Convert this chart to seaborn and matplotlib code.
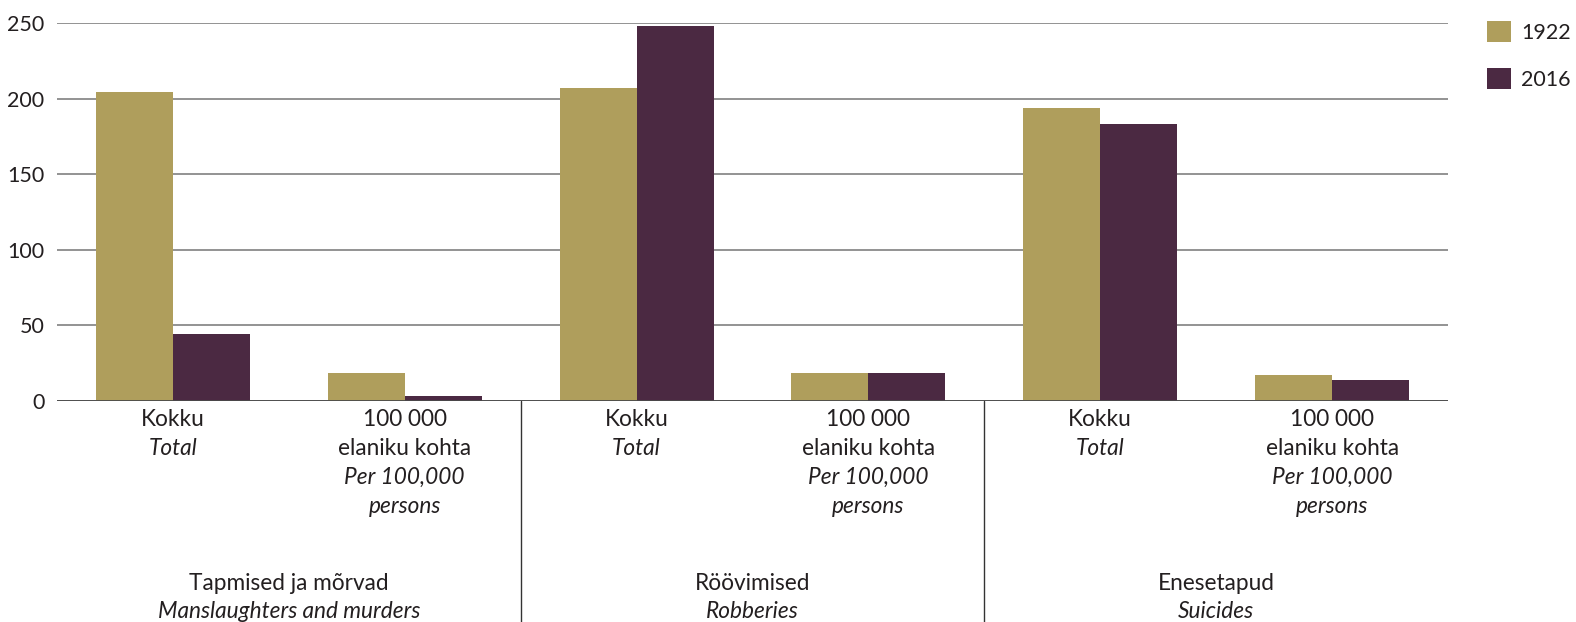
import pandas as pd
import matplotlib.pyplot as plt
import seaborn as sns
from matplotlib.patches import Patch

# Data
groups_et = ['Tapmised ja mõrvad', 'Röövimised', 'Enesetapud']
groups_en = ['Manslaughters and murders', 'Robberies', 'Suicides']
measures_et = [['Kokku'], ['100 000', 'elaniku kohta']]
measures_en = [['Total'], ['Per 100,000', 'persons']]
years = ['1922', '2016']
v1922 = [204.5, 18.5, 207, 18.5, 193.5, 17.2]
v2016 = [44.5, 3.3, 248, 18.5, 183.5, 13.9]

colors = {'1922': '#AF9E5C', '2016': '#4B2942'}

cats = [f'{g}|{m}' for g in range(len(groups_et)) for m in range(len(measures_et))]
df = pd.DataFrame({
    'cat': cats * 2,
    'year': ['1922'] * len(cats) + ['2016'] * len(cats),
    'value': v1922 + v2016,
})

sns.set_style('white')
plt.rcParams['font.family'] = ['Lato', 'DejaVu Sans']
plt.rcParams['text.color'] = '#231F20'

W, H = 1576, 622
fig = plt.figure(figsize=(W / 100, H / 100), dpi=100)
x0, x1, y0, y1 = 57, 1448, 401, 23
ax = fig.add_axes([x0 / W, (H - y0) / H, (x1 - x0) / W, (y0 - y1) / H])

sns.barplot(data=df, x='cat', y='value', hue='year', order=cats, hue_order=years,
            palette=colors, width=0.664, saturation=1, ax=ax, legend=False,
            linewidth=0, edgecolor='none', zorder=3)

ax.set_ylim(0, 250)
ax.set_yticks(range(0, 251, 50))
ax.set_xlim(-0.5, len(cats) - 0.5)
for s in ax.spines.values():
    s.set_visible(False)
ax.yaxis.grid(True, color='#8a8a8a', linewidth=1.3, zorder=0)
ax.axhline(0, color='#4a4a4a', linewidth=1.3, zorder=4)
ax.tick_params(axis='y', length=0, pad=9, labelsize=15.5, labelcolor='#231F20')
ax.set_xticks([])
ax.set_xlabel('')
ax.set_ylabel('')

# category labels under the axis
ph = y0 - y1
trans = ax.get_xaxis_transform()
line_h = 28.8
fs = 16.3
for i, c in enumerate(cats):
    m = int(c.split('|')[1])
    lines = [(t, 'normal') for t in measures_et[m]] + [(t, 'italic') for t in measures_en[m]]
    for k, (t, st) in enumerate(lines):
        ypx = 420 + line_h * k
        ax.text(i, -(ypx - y0) / ph, t, transform=trans, ha='center', va='center',
                fontsize=fs, style=st)

# group labels and separators
for g in range(len(groups_et)):
    xc = g * 2 + 0.5
    ax.text(xc, -(583 - y0) / ph, groups_et[g], transform=trans, ha='center',
            va='center', fontsize=fs)
    ax.text(xc, -(611 - y0) / ph, groups_en[g], transform=trans, ha='center',
            va='center', fontsize=fs, style='italic')
    if g > 0:
        ax.plot([g * 2 - 0.5] * 2, [0, -(H - y0 + 5) / ph], transform=trans,
                color='#333333', linewidth=1, clip_on=False)

handles = [Patch(facecolor=colors[y], edgecolor='none', label=y) for y in years]
fig.legend(handles=handles, loc='upper left', bbox_to_anchor=(1487 / W, 1 - 21 / H),
           frameon=False, fontsize=15.5, handlelength=1.1, handleheight=1.1,
           handletextpad=0.5, labelspacing=1.2, borderaxespad=0, borderpad=0)

fig.savefig('out.png', dpi=100)
